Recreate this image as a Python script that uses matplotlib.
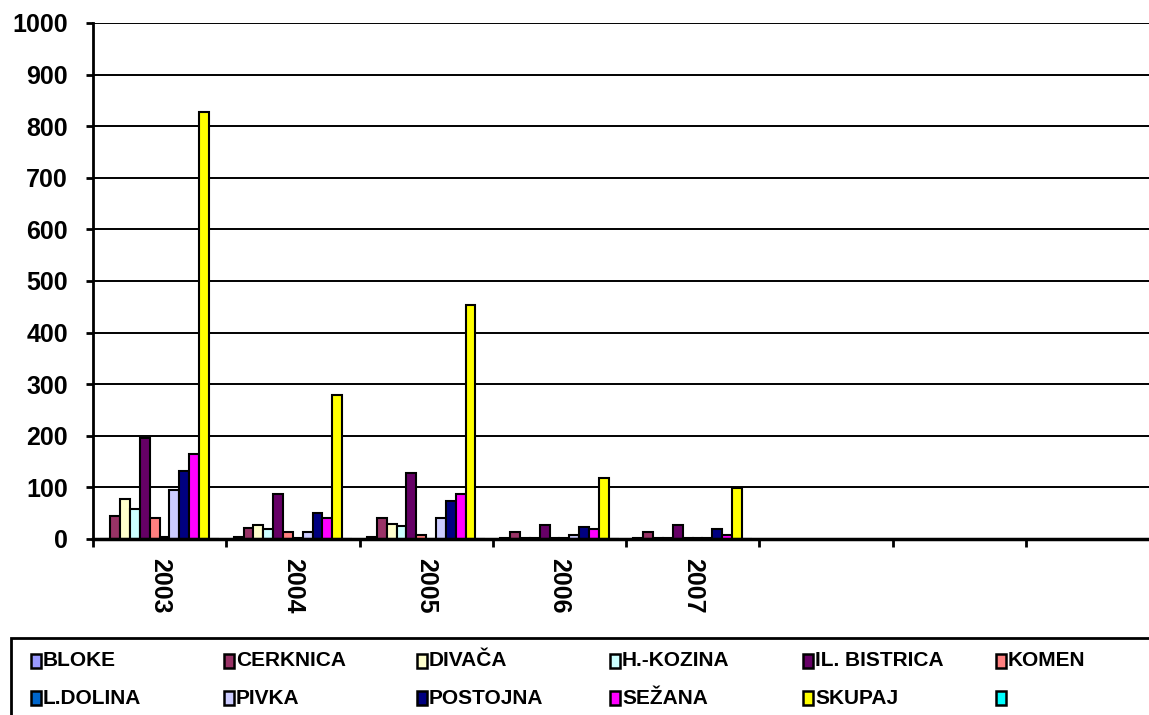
import matplotlib.pyplot as plt
import numpy as np
from matplotlib.patches import Rectangle

# data
years = ['2003', '2004', '2005', '2006', '2007', '', '', '']
n_shown = 5

series_names = ['BLOKE', 'CERKNICA', 'DIVAČA', 'H.-KOZINA', 'IL. BISTRICA', 'KOMEN',
                'L.DOLINA', 'PIVKA', 'POSTOJNA', 'SEŽANA', 'SKUPAJ', '']
bloke = [0, 3, 3, 2, 2]
cerknica = [45, 22, 41, 14, 14]
divaca = [77, 28, 30, 2, 2]
hkozina = [59, 19, 26, 2, 2]
ilbistrica = [196, 87, 128, 28, 28]
komen = [41, 13, 8, 2, 2]
ldolina = [3, 2, 0, 2, 2]
pivka = [95, 14, 41, 8, 2]
postojna = [132, 50, 74, 24, 20]
sezana = [164, 41, 87, 19, 7]
skupaj = [827, 279, 453, 118, 99]
prazno = [0, 0, 0, 0, 0]

series_values = [bloke, cerknica, divaca, hkozina, ilbistrica, komen,
                 ldolina, pivka, postojna, sezana, skupaj, prazno]
colors = ['#9999FF', '#993366', '#FFFFCC', '#CCFFFF', '#660066', '#FF8080',
          '#0066CC', '#CCCCFF', '#000080', '#FF00FF', '#FFFF00', '#00FFFF']

plt.rcParams['font.family'] = ['Liberation Sans', 'DejaVu Sans']
plt.rcParams['font.weight'] = 'bold'

W, H = 1149, 715
fig = plt.figure(figsize=(W / 100, H / 100), dpi=100)
ax = fig.add_axes([93 / W, (H - 539) / H, 1066 / W, 516 / H])

n = len(series_names)
width = 1 / (n + 1.5)
x = np.arange(n_shown)
for i, (vals, col) in enumerate(zip(series_values, colors)):
    ax.bar(x + (i - (n - 1) / 2) * width, vals, width, color=col,
           edgecolor='black', linewidth=1.5, zorder=3)

ax.set_xlim(-0.5, len(years) - 0.5)
ax.set_ylim(0, 1000)
ax.set_yticks(range(0, 1001, 100))
ax.grid(axis='y', color='black', linewidth=1.4, zorder=0)

ax.set_xticks(np.arange(len(years)))
ax.set_xticklabels(years, rotation=-90, fontsize=18, fontweight='bold')
ax.set_xticks(np.arange(len(years) + 1) - 0.5, minor=True)
ax.tick_params(axis='x', which='major', length=0, pad=14)
ax.tick_params(axis='x', which='minor', length=6, width=2, direction='out')
ax.tick_params(axis='y', length=5, width=2, pad=13, labelsize=18)
for lab in ax.get_yticklabels():
    lab.set_fontweight('bold')

ax.spines['top'].set_visible(False)
ax.spines['right'].set_visible(False)
ax.spines['left'].set_linewidth(2)
ax.spines['bottom'].set_linewidth(2.5)
ax.spines['bottom'].set_zorder(4)

# legend drawn by hand on a 6-column grid
fig.patches.append(Rectangle((11 / W, -0.05), 1.1, (H - 638) / H + 0.05,
                             transform=fig.transFigure, fill=False,
                             edgecolor='black', linewidth=2))
col_x = [31, 224, 417, 610, 803, 996]
row_y = [661, 698]
for k, (name, col) in enumerate(zip(series_names, colors)):
    r, c = divmod(k, 6)
    x0 = col_x[c]
    y0 = row_y[r]
    fig.patches.append(Rectangle((x0 / W, (H - y0 - 7) / H), 10 / W, 14 / H,
                                 transform=fig.transFigure, facecolor=col,
                                 edgecolor='black', linewidth=1.8))
    fig.text((x0 + 12) / W, (H - y0) / H, name, fontsize=15, fontweight='bold',
             va='center', ha='left')

fig.savefig('out.png', dpi=100)
